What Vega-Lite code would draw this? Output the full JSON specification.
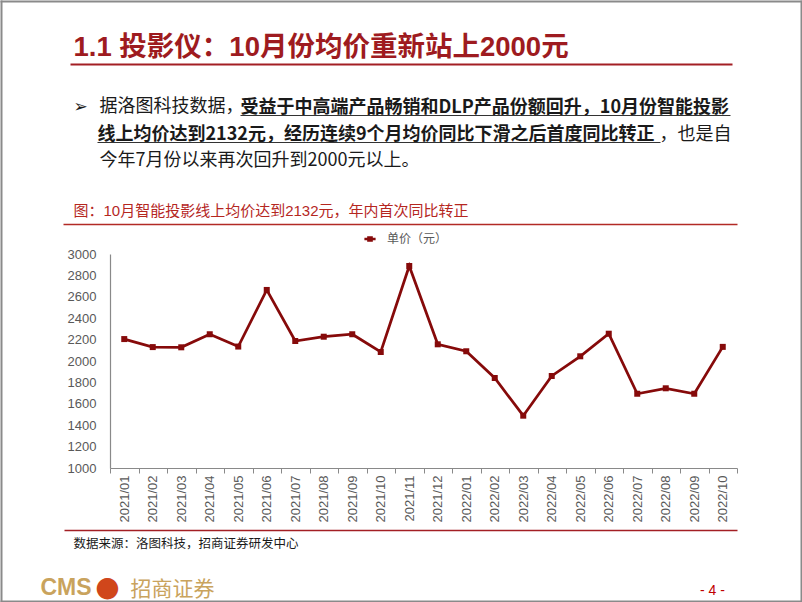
{
  "$schema": "https://vega.github.io/schema/vega-lite/v6.json",
  "autosize": "none",
  "width": 627,
  "height": 214,
  "padding": {"left": 110, "top": 254, "right": 65, "bottom": 134},
  "background": "white",
  "data": {
    "values": [
      {"month": "2021/01", "price": 2205, "series": "单价（元）"},
      {"month": "2021/02", "price": 2130, "series": "单价（元）"},
      {"month": "2021/03", "price": 2128, "series": "单价（元）"},
      {"month": "2021/04", "price": 2250, "series": "单价（元）"},
      {"month": "2021/05", "price": 2135, "series": "单价（元）"},
      {"month": "2021/06", "price": 2664, "series": "单价（元）"},
      {"month": "2021/07", "price": 2187, "series": "单价（元）"},
      {"month": "2021/08", "price": 2227, "series": "单价（元）"},
      {"month": "2021/09", "price": 2250, "series": "单价（元）"},
      {"month": "2021/10", "price": 2084, "series": "单价（元）"},
      {"month": "2021/11", "price": 2888, "series": "单价（元）"},
      {"month": "2021/12", "price": 2156, "series": "单价（元）"},
      {"month": "2022/01", "price": 2091, "series": "单价（元）"},
      {"month": "2022/02", "price": 1841, "series": "单价（元）"},
      {"month": "2022/03", "price": 1489, "series": "单价（元）"},
      {"month": "2022/04", "price": 1860, "series": "单价（元）"},
      {"month": "2022/05", "price": 2044, "series": "单价（元）"},
      {"month": "2022/06", "price": 2255, "series": "单价（元）"},
      {"month": "2022/07", "price": 1694, "series": "单价（元）"},
      {"month": "2022/08", "price": 1745, "series": "单价（元）"},
      {"month": "2022/09", "price": 1694, "series": "单价（元）"},
      {"month": "2022/10", "price": 2132, "series": "单价（元）"}
    ]
  },
  "resolve": {
    "scale": {"x": "independent", "y": "independent", "color": "independent"},
    "axis": {"x": "independent", "y": "independent"}
  },
  "layer": [
    {
      "mark": {"type": "line", "strokeWidth": 2.75, "point": {"shape": "square", "size": 36, "filled": true, "opacity": 1}},
      "encoding": {
        "x": {
          "field": "month", "type": "ordinal", "sort": null, "bandPosition": 0.5,
          "scale": {"type": "band", "paddingInner": 0, "paddingOuter": 0},
          "axis": {
            "orient": "bottom", "title": null, "labelAngle": 270, "labelPadding": 2,
            "labelFont": "Liberation Sans", "labelFontSize": 13, "labelColor": "#595959",
            "ticks": true, "tickSize": 5, "tickColor": "#898989", "tickBand": "extent",
            "domain": true, "domainColor": "#898989", "domainWidth": 1.2, "grid": false, "labelOverlap": false
          }
        },
        "y": {
          "field": "price", "type": "quantitative",
          "scale": {"domain": [1000, 3000], "nice": false, "zero": false},
          "axis": {
            "orient": "left", "title": null, "format": "d",
            "values": [1000, 1200, 1400, 1600, 1800, 2000, 2200, 2400, 2600, 2800, 3000],
            "ticks": false, "labelPadding": 14, "labelFont": "Liberation Sans", "labelFontSize": 13,
            "labelColor": "#595959", "domain": true, "domainColor": "#898989", "domainWidth": 1.2, "grid": false
          }
        },
        "color": {
          "field": "series", "type": "nominal",
          "scale": {"range": ["#860A0A"]},
          "legend": {
            "orient": "none", "legendX": 254, "legendY": -21, "title": null, "direction": "horizontal",
            "symbolType": "M-1.6,0H1.6M-0.45,-0.45H0.45V0.45H-0.45Z", "symbolSize": 49,
            "symbolStrokeWidth": 2.5, "symbolStrokeColor": "#860A0A", "symbolFillColor": "#860A0A",
            "labelFont": "Noto Sans CJK SC", "labelFontSize": 12, "labelColor": "#595959", "labelOffset": 11, "padding": 0
          }
        }
      }
    },
    {
      "mark": {"type": "point", "opacity": 0},
      "encoding": {
        "x": {
          "field": "month", "type": "ordinal", "sort": null, "scale": {"range": [-40, 622]},
          "axis": {
            "orient": "top", "offset": 190, "labels": false, "ticks": false, "grid": false,
            "domain": true, "domainColor": "#A31F24", "domainWidth": 2,
            "title": "1.1 投影仪：10月份均价重新站上2000元", "titleX": -37, "titleY": -9,
            "titleAlign": "left", "titleBaseline": "alphabetic", "titleFont": "Liberation Sans, Noto Sans CJK SC",
            "titleFontSize": 27.5, "titleFontWeight": "bold", "titleColor": "#9E1B20"
          }
        },
        "y": {
          "field": "price", "type": "quantitative", "scale": {"range": [348, -254]},
          "axis": {
            "orient": "left", "offset": 109, "labels": false, "ticks": false, "grid": false,
            "domain": true, "domainColor": "#8A8A8A", "domainWidth": 2, "title": null
          }
        }
      }
    },
    {
      "mark": {"type": "point", "opacity": 0},
      "encoding": {
        "x": {
          "field": "month", "type": "ordinal", "sort": null, "scale": {"range": [-47, 627]},
          "axis": {
            "orient": "top", "offset": 30, "labels": false, "ticks": false, "grid": false,
            "domain": true, "domainColor": "#B22A25", "domainWidth": 1.5,
            "title": "图：10月智能投影线上均价达到2132元，年内首次同比转正", "titleX": -37, "titleY": -9,
            "titleAlign": "left", "titleBaseline": "alphabetic", "titleFont": "Liberation Sans, Noto Sans CJK SC",
            "titleFontSize": 15, "titleFontWeight": "normal", "titleColor": "#B5271F"
          }
        },
        "y": {
          "field": "price", "type": "quantitative", "scale": {"range": [348, -254]},
          "axis": {
            "orient": "right", "offset": 64, "labels": false, "ticks": false, "grid": false,
            "domain": true, "domainColor": "#8A8A8A", "domainWidth": 2,
            "title": "- 4 -", "titleAngle": 0, "titleX": -89, "titleY": 340, "titleAlign": "center",
            "titleBaseline": "alphabetic", "titleFont": "Liberation Sans", "titleFontSize": 14,
            "titleFontWeight": "normal", "titleColor": "#C00000"
          }
        }
      }
    },
    {
      "mark": {"type": "point", "opacity": 0},
      "encoding": {
        "x": {
          "field": "month", "type": "ordinal", "sort": null, "scale": {"range": [-46, 627]},
          "axis": {
            "orient": "bottom", "offset": 62, "labels": false, "ticks": false, "grid": false,
            "domain": true, "domainColor": "#A31F24", "domainWidth": 1.5,
            "title": "数据来源：洛图科技，招商证券研发中心", "titleX": -37, "titleY": 17,
            "titleAlign": "left", "titleBaseline": "alphabetic", "titleFont": "Noto Sans CJK SC",
            "titleFontSize": 12.5, "titleFontWeight": "normal", "titleColor": "#1A1A1A"
          }
        },
        "y": {
          "field": "price", "type": "quantitative",
          "axis": {
            "orient": "left", "offset": 0, "labels": false, "ticks": false, "grid": false, "domain": false,
            "title": "CMS", "titleAngle": 0, "titleX": -70, "titleY": 340, "titleAlign": "left",
            "titleBaseline": "alphabetic", "titleFont": "Liberation Sans", "titleFontSize": 23,
            "titleFontWeight": "bold", "titleColor": "#C9A35D"
          }
        }
      }
    },
    {
      "mark": {"type": "point", "opacity": 0},
      "encoding": {
        "x": {
          "field": "month", "type": "ordinal", "sort": null, "scale": {"range": [130, 620]},
          "axis": {
            "orient": "top", "offset": 139, "labels": false, "ticks": false, "grid": false,
            "domain": true, "domainColor": "#333333", "domainWidth": 1,
            "title": "受益于中高端产品畅销和DLP产品份额回升，10月份智能投影", "titleX": 130, "titleY": -3,
            "titleAlign": "left", "titleBaseline": "alphabetic", "titleFont": "Noto Sans CJK SC",
            "titleFontSize": 18, "titleFontWeight": "bold", "titleColor": "#1A1A1A"
          }
        },
        "y": {
          "field": "price", "type": "quantitative",
          "axis": {
            "orient": "left", "offset": 0, "labels": false, "ticks": false, "grid": false, "domain": false,
            "title": "●", "titleAngle": 0, "titleX": -3, "titleY": 341, "titleAlign": "center",
            "titleBaseline": "alphabetic", "titleFont": "DejaVu Sans", "titleFontSize": 28,
            "titleFontWeight": "normal", "titleColor": "#D0461B"
          }
        }
      }
    },
    {
      "mark": {"type": "point", "opacity": 0},
      "encoding": {
        "x": {
          "field": "month", "type": "ordinal", "sort": null, "scale": {"range": [-13, 550]},
          "axis": {
            "orient": "top", "offset": 112, "labels": false, "ticks": false, "grid": false,
            "domain": true, "domainColor": "#333333", "domainWidth": 1,
            "title": "线上均价达到2132元，经历连续9个月均价同比下滑之后首度同比转正", "titleX": -13, "titleY": -3,
            "titleAlign": "left", "titleBaseline": "alphabetic", "titleFont": "Noto Sans CJK SC",
            "titleFontSize": 18, "titleFontWeight": "bold", "titleColor": "#1A1A1A"
          }
        },
        "y": {
          "field": "price", "type": "quantitative",
          "axis": {
            "orient": "left", "offset": 0, "labels": false, "ticks": false, "grid": false, "domain": false,
            "title": "招商证券", "titleAngle": 0, "titleX": 20, "titleY": 341, "titleAlign": "left",
            "titleBaseline": "alphabetic", "titleFont": "Noto Sans CJK SC", "titleFontSize": 21,
            "titleFontWeight": "normal", "titleColor": "#C9A35D"
          }
        }
      }
    },
    {
      "mark": {"type": "point", "opacity": 0},
      "encoding": {
        "x": {
          "field": "month", "type": "ordinal", "sort": null, "scale": {"range": [-110, 692]},
          "axis": {
            "orient": "top", "offset": 253, "labels": false, "ticks": false, "grid": false,
            "domain": true, "domainColor": "#8A8A8A", "domainWidth": 2,
            "title": "据洛图科技数据，", "titleX": -11, "titleY": 110,
            "titleAlign": "left", "titleBaseline": "alphabetic", "titleFont": "Noto Sans CJK SC",
            "titleFontSize": 18, "titleFontWeight": "normal", "titleColor": "#1A1A1A"
          }
        },
        "y": {
          "field": "price", "type": "quantitative",
          "axis": {
            "orient": "right", "offset": 0, "labels": false, "ticks": false, "grid": false, "domain": false,
            "title": "，也是自", "titleAngle": 0, "titleX": -78, "titleY": -115, "titleAlign": "left",
            "titleBaseline": "alphabetic", "titleFont": "Noto Sans CJK SC", "titleFontSize": 18,
            "titleFontWeight": "normal", "titleColor": "#1A1A1A"
          }
        }
      }
    },
    {
      "mark": {"type": "point", "opacity": 0},
      "encoding": {
        "x": {
          "field": "month", "type": "ordinal", "sort": null, "scale": {"range": [-110, 692]},
          "axis": {
            "orient": "bottom", "offset": 133, "labels": false, "ticks": false, "grid": false,
            "domain": true, "domainColor": "#8A8A8A", "domainWidth": 2,
            "title": "今年7月份以来再次回升到2000元以上。", "titleX": -11, "titleY": -436,
            "titleAlign": "left", "titleBaseline": "alphabetic", "titleFont": "Noto Sans CJK SC",
            "titleFontSize": 18, "titleFontWeight": "normal", "titleColor": "#1A1A1A"
          }
        },
        "y": {
          "field": "price", "type": "quantitative",
          "axis": {
            "orient": "left", "offset": 0, "labels": false, "ticks": false, "grid": false, "domain": false,
            "title": "➢", "titleAngle": 0, "titleX": -37, "titleY": -143, "titleAlign": "left",
            "titleBaseline": "alphabetic", "titleFont": "DejaVu Sans", "titleFontSize": 17,
            "titleFontWeight": "bold", "titleColor": "#1A1A1A"
          }
        }
      }
    }
  ],
  "config": {
    "view": {"stroke": null},
    "axis": {"grid": false},
    "font": "Noto Sans CJK SC"
  }
}
